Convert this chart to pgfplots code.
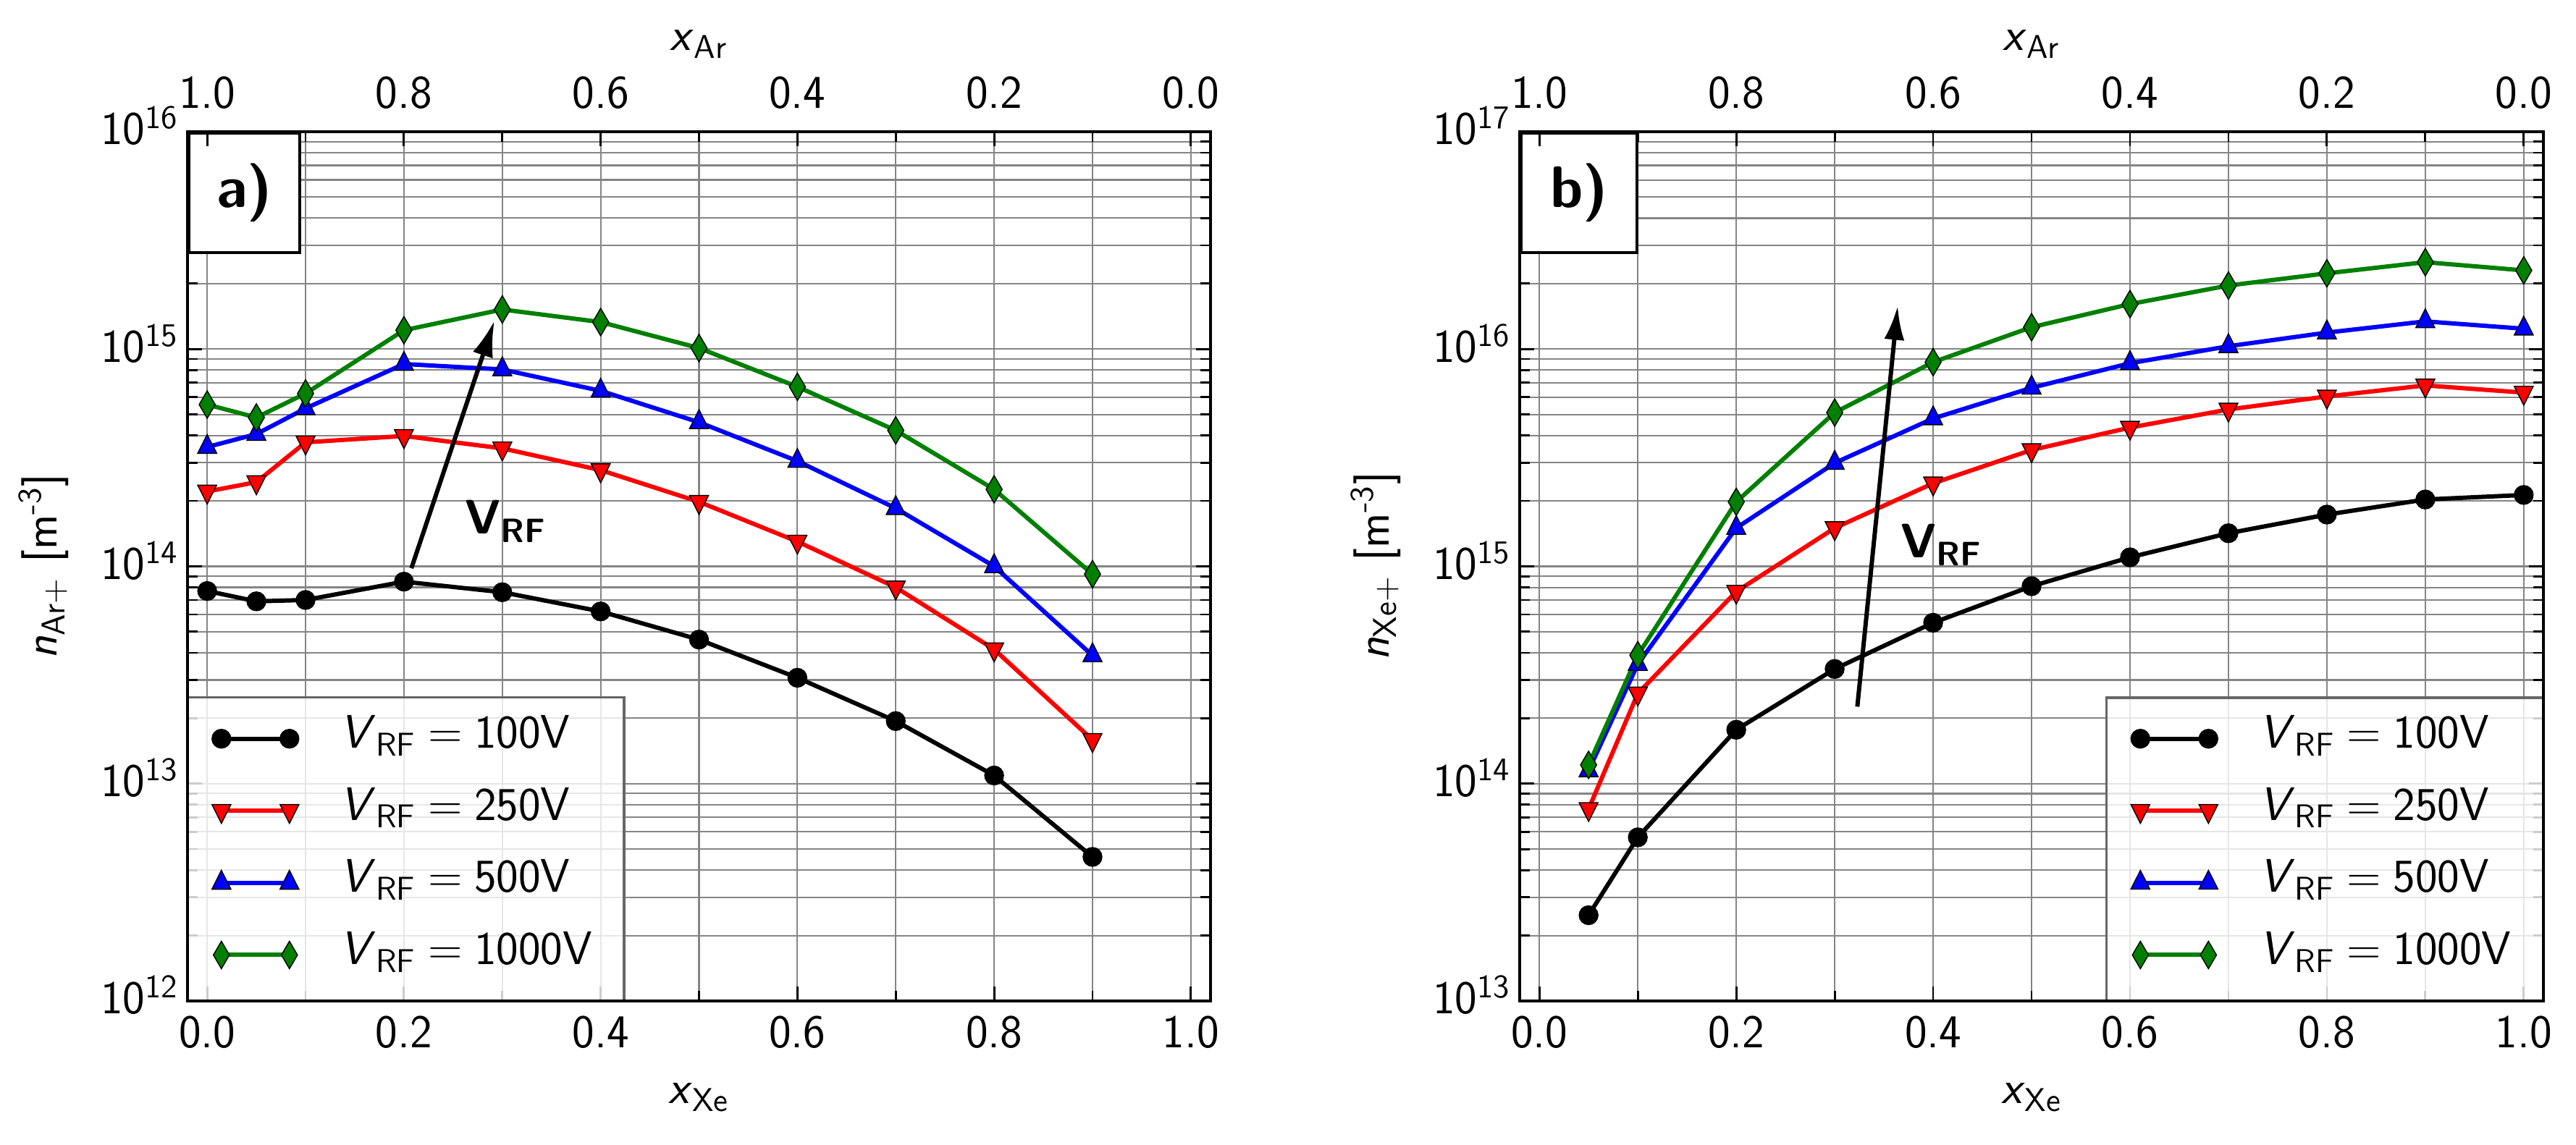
\documentclass[border=0pt]{standalone}
\usepackage{pgfplots}
\usepackage{pgfplotstable}
\pgfplotsset{compat=1.18}
\usetikzlibrary{arrows.meta}
\renewcommand{\familydefault}{\sfdefault}
\definecolor{mplgreen}{rgb}{0,0.5,0}
\definecolor{gridgray}{gray}{0.52}
\definecolor{leggray}{gray}{0.4}
\newcommand{\fs}{\fontsize{18.5}{22}\selectfont}

\pgfplotstableread{
x     v100    v250    v500    v1000
0.00  7.7e13  2.21e14 3.54e14 5.55e14
0.05  6.9e13  2.44e14 4.06e14 4.84e14
0.10  7.0e13  3.72e14 5.33e14 6.24e14
0.20  8.5e13  3.98e14 8.53e14 1.22e15
0.30  7.6e13  3.49e14 8.05e14 1.52e15
0.40  6.2e13  2.77e14 6.42e14 1.33e15
0.50  4.6e13  1.98e14 4.60e14 1.01e15
0.60  3.07e13 1.30e14 3.05e14 6.70e14
0.70  1.94e13 8.0e13  1.85e14 4.22e14
0.80  1.09e13 4.15e13 1.00e14 2.26e14
0.90  4.6e12  1.59e13 3.89e13 9.2e13
}\dataA

\pgfplotstableread{
x     v100    v250    v500    v1000
0.05  2.48e13 7.65e13 1.15e14 1.22e14
0.10  5.66e13 2.60e14 3.55e14 3.90e14
0.20  1.77e14 7.65e14 1.50e15 1.98e15
0.30  3.37e14 1.50e15 2.99e15 5.10e15
0.40  5.50e14 2.41e15 4.79e15 8.70e15
0.50  8.10e14 3.43e15 6.63e15 1.26e16
0.60  1.10e15 4.35e15 8.60e15 1.61e16
0.70  1.42e15 5.27e15 1.03e16 1.96e16
0.80  1.73e15 6.05e15 1.19e16 2.23e16
0.90  2.03e15 6.80e15 1.34e16 2.51e16
1.00  2.13e15 6.30e15 1.24e16 2.30e16
}\dataB

\tikzset{
  s100/.style={black, line width=1.7pt, mark=*, mark size=3.7pt,
    mark options={solid, fill=black, draw=black, line width=0.4pt}},
  s250/.style={red, line width=1.7pt, mark=triangle*, mark size=4.3pt,
    mark options={solid, rotate=180, yscale=1.15, fill=red, draw=black, line width=0.4pt}},
  s500/.style={blue, line width=1.7pt, mark=triangle*, mark size=4.3pt,
    mark options={solid, yscale=1.15, fill=blue, draw=black, line width=0.4pt}},
  s1000/.style={mplgreen, line width=1.7pt, mark=diamond*, mark size=5.4pt,
    mark options={solid, xscale=0.78, fill=mplgreen, draw=black, line width=0.4pt}},
}

\pgfplotsset{
  legend image code/.code={\draw[#1] plot coordinates {(0cm,0cm) (0.94cm,0cm)};},
}

\newcommand{\legtext}[1]{\textit{V}\textsubscript{RF}\hspace{0.25em}=\hspace{0.25em}#1V}
\newcommand{\expolabel}{10\textsuperscript{\pgfmathparse{int(round(\tick))}\pgfmathresult}}
\newcommand{\fixlabel}{\pgfmathprintnumber[fixed,fixed zerofill,precision=1]{\tick}}

\begin{document}
\begin{tikzpicture}
\path[use as bounding box] (0,0) rectangle (35.58cm,15.81cm);

% ---------- panel a ----------
\begin{axis}[at={(2.59cm,1.98cm)}, anchor=south west,
  scale only axis, width=14.13cm, height=12.01cm,
  xmin=-0.02, xmax=1.02, ymin=1e12, ymax=1e16,
  ymode=log, log basis y=10,
  clip=false,
  xtick={0,0.2,0.4,0.6,0.8,1}, minor x tick num=1,
  tick align=inside,
  major tick length=0.2cm, minor tick length=0.14cm,
  every tick/.style={black, line width=0.8pt},
  axis line style={line width=1.3pt},
  grid=both,
  major grid style={draw=gridgray, line width=0.6pt},
  minor grid style={draw=gridgray, line width=0.6pt},
  /pgf/number format/assume math mode=true,
  tick label style={font=\fs},
  label style={font=\fs},
  xticklabel={\fixlabel},
  yticklabel={\expolabel},
  xticklabel style={anchor=base, yshift=-0.65cm},
  yticklabel style={anchor=base east, yshift=-0.18cm},
  xlabel={\textit{x}\textsubscript{Xe}},
  xlabel style={at={(axis description cs:0.5,-0.1182)}, anchor=base},
  ylabel={\textit{n}\textsubscript{Ar+} [m\textsuperscript{-3}]},
  ylabel style={at={(axis description cs:-0.1408,0.5)}, anchor=center},
  legend cell align=left,
  legend style={draw=none, fill=none, inner sep=0pt,
      row sep=0.356cm, column sep=0.57cm, font=\fs,
      nodes={inner sep=0pt, text height=0.45cm, text depth=0.19cm},
      at={(rel axis cs:0,0)}, anchor=north west, xshift=0.33cm, yshift=3.95cm},
  ]
\draw[draw=leggray, line width=0.9pt, fill=white, fill opacity=0.8] (rel axis cs:0,0) rectangle (rel axis cs:0.4268,0.3489);
\draw[line width=1.3pt] (rel axis cs:0,0) rectangle (rel axis cs:1,1);
\addplot[s100] table[x=x,y=v100] {\dataA};
\addplot[s250] table[x=x,y=v250] {\dataA};
\addplot[s500] table[x=x,y=v500] {\dataA};
\addplot[s1000] table[x=x,y=v1000] {\dataA};
\draw[-{Latex[length=0.5cm,width=0.29cm]}, line width=1.7pt] (axis cs:0.2076,9.8e13) -- (axis cs:0.292,1.35e15);
\node[anchor=base west, inner sep=0pt, font=\bfseries\fontsize{19}{23}\selectfont] at (axis cs:0.2616,1.41e14) {V\textsubscript{RF}};
\node[draw=black, line width=1.2pt, fill=white, anchor=north west, minimum width=1.53cm, minimum height=1.65cm, inner sep=0pt, font=\bfseries\fontsize{23}{26}\selectfont] at (rel axis cs:0,1) {a)};
\legend{\legtext{100},\legtext{250},\legtext{500},\legtext{1000}}
\end{axis}
\begin{axis}[at={(2.59cm,1.98cm)}, anchor=south west,
  scale only axis, width=14.13cm, height=12.01cm,
  xmin=-0.02, xmax=1.02, ymin=0, ymax=1, x dir=reverse,
  axis x line*=top, hide y axis,
  x axis line style={-, line width=1.3pt},
  xtick={0,0.2,0.4,0.6,0.8,1}, minor x tick num=1,
  tick align=inside,
  major tick length=0.2cm, minor tick length=0.14cm,
  every tick/.style={black, line width=0.8pt},
  /pgf/number format/assume math mode=true,
  tick label style={font=\fs},
  label style={font=\fs},
  xticklabel={\fixlabel},
  xticklabel style={anchor=base, yshift=0.32cm},
  xlabel={\textit{x}\textsubscript{Ar}},
  xlabel style={at={(axis description cs:0.5,1.0933)}, anchor=base},
  ]
\end{axis}

% ---------- panel b ----------
\begin{axis}[at={(20.99cm,1.98cm)}, anchor=south west,
  scale only axis, width=14.14cm, height=12.01cm,
  xmin=-0.02, xmax=1.02, ymin=1e13, ymax=1e17,
  ymode=log, log basis y=10,
  clip=false,
  xtick={0,0.2,0.4,0.6,0.8,1}, minor x tick num=1,
  tick align=inside,
  major tick length=0.2cm, minor tick length=0.14cm,
  every tick/.style={black, line width=0.8pt},
  axis line style={line width=1.3pt},
  grid=both,
  major grid style={draw=gridgray, line width=0.6pt},
  minor grid style={draw=gridgray, line width=0.6pt},
  /pgf/number format/assume math mode=true,
  tick label style={font=\fs},
  label style={font=\fs},
  xticklabel={\fixlabel},
  yticklabel={\expolabel},
  xticklabel style={anchor=base, yshift=-0.65cm},
  yticklabel style={anchor=base east, yshift=-0.18cm},
  xlabel={\textit{x}\textsubscript{Xe}},
  xlabel style={at={(axis description cs:0.5,-0.1182)}, anchor=base},
  ylabel={\textit{n}\textsubscript{Xe+} [m\textsuperscript{-3}]},
  ylabel style={at={(axis description cs:-0.1408,0.5)}, anchor=center},
  legend cell align=left,
  legend style={draw=none, fill=none, inner sep=0pt,
      row sep=0.356cm, column sep=0.57cm, font=\fs,
      nodes={inner sep=0pt, text height=0.45cm, text depth=0.19cm},
      at={(rel axis cs:0,0)}, anchor=north west, xshift=8.435cm, yshift=3.95cm},
  ]
\draw[draw=leggray, line width=0.9pt, fill=white, fill opacity=0.8] (rel axis cs:0.5732,0) rectangle (rel axis cs:1,0.3489);
\draw[line width=1.3pt] (rel axis cs:0,0) rectangle (rel axis cs:1,1);
\addplot[s100] table[x=x,y=v100] {\dataB};
\addplot[s250] table[x=x,y=v250] {\dataB};
\addplot[s500] table[x=x,y=v500] {\dataB};
\addplot[s1000] table[x=x,y=v1000] {\dataB};
\draw[-{Latex[length=0.47cm,width=0.28cm]}, line width=1.7pt] (axis cs:0.323,2.26e14) -- (axis cs:0.364,1.58e16);
\node[anchor=base west, inner sep=0pt, font=\bfseries\fontsize{19}{23}\selectfont] at (axis cs:0.3667,1.1e15) {V\textsubscript{RF}};
\node[draw=black, line width=1.2pt, fill=white, anchor=north west, minimum width=1.6cm, minimum height=1.65cm, inner sep=0pt, font=\bfseries\fontsize{23}{26}\selectfont] at (rel axis cs:0,1) {b)};
\legend{\legtext{100},\legtext{250},\legtext{500},\legtext{1000}}
\end{axis}
\begin{axis}[at={(20.99cm,1.98cm)}, anchor=south west,
  scale only axis, width=14.14cm, height=12.01cm,
  xmin=-0.02, xmax=1.02, ymin=0, ymax=1, x dir=reverse,
  axis x line*=top, hide y axis,
  x axis line style={-, line width=1.3pt},
  xtick={0,0.2,0.4,0.6,0.8,1}, minor x tick num=1,
  tick align=inside,
  major tick length=0.2cm, minor tick length=0.14cm,
  every tick/.style={black, line width=0.8pt},
  /pgf/number format/assume math mode=true,
  tick label style={font=\fs},
  label style={font=\fs},
  xticklabel={\fixlabel},
  xticklabel style={anchor=base, yshift=0.32cm},
  xlabel={\textit{x}\textsubscript{Ar}},
  xlabel style={at={(axis description cs:0.5,1.0933)}, anchor=base},
  ]
\end{axis}
\end{tikzpicture}
\end{document}
